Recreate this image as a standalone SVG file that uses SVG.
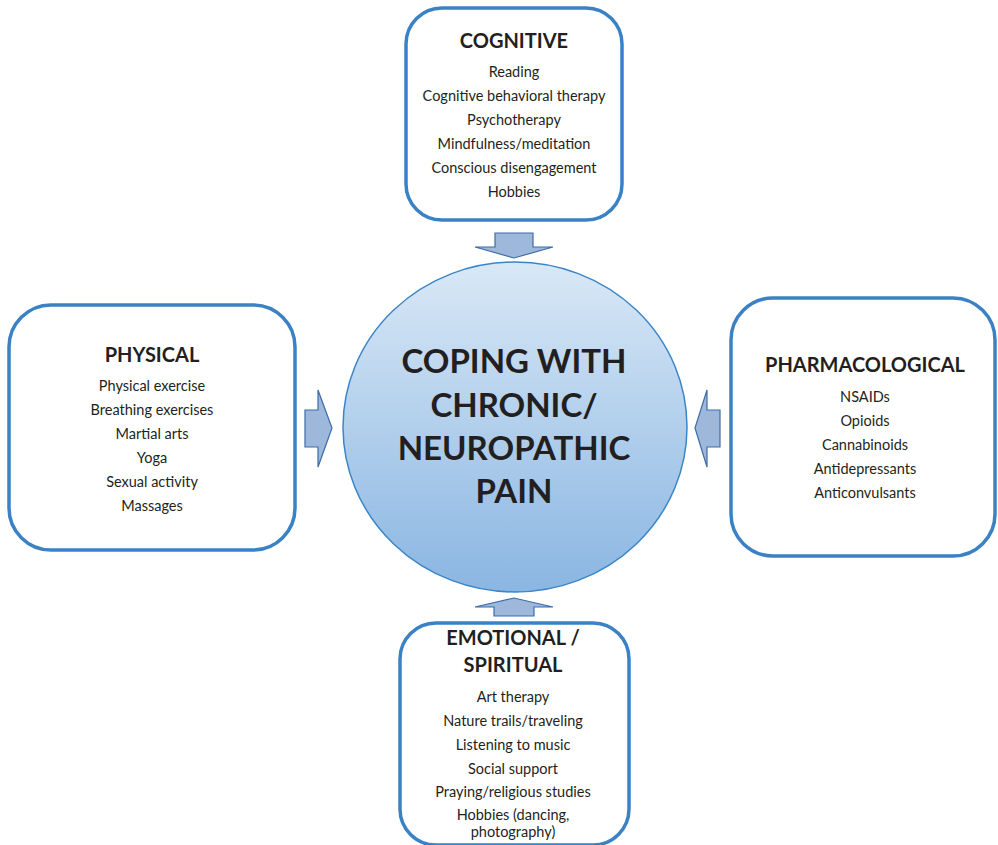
<svg xmlns="http://www.w3.org/2000/svg" width="998" height="845" viewBox="0 0 998 845">
<defs>
<linearGradient id="g" x1="0" y1="0" x2="0" y2="1">
<stop offset="0" stop-color="#d9e8f6"/>
<stop offset="1" stop-color="#8ab6e2"/>
</linearGradient>
</defs>
<style>
.box{fill:#fff;stroke:#3a82c4;stroke-width:3.5}
.arr{fill:#9db8da;stroke:#3d6ca6;stroke-width:1.2;stroke-linejoin:miter}
text{font-family:Lato,"Open Sans","Liberation Sans",sans-serif;fill:#231f20;text-anchor:middle}
.t{font-weight:bold;font-size:20px}
.i{font-size:14.5px}
.c{font-weight:bold;font-size:33px}
</style>
<g id="connectors">
<polygon class="arr" points="495,233 533,233 533,247 553,247 514,258 475,247 495,247"/>
<polygon class="arr" points="305,410 318,410 318,390 332,428 318,467 318,447 305,447"/>
<polygon class="arr" points="720,410 707,410 707,390 695,428 707,467 707,447 720,447"/>
<polygon class="arr" points="494,616 534,616 534,607 553,607 514,598 475,607 494,607"/>
</g>
<g id="center">
<ellipse cx="515" cy="427" rx="172" ry="165" fill="url(#g)" stroke="#3a85c8" stroke-width="1.5"/>
<text class="c" x="514" y="373">COPING WITH</text>
<text class="c" x="514" y="417">CHRONIC/</text>
<text class="c" x="514" y="460">NEUROPATHIC</text>
<text class="c" x="514" y="503">PAIN</text>
</g>
<g id="cognitive">
<rect class="box" x="406" y="8" width="216" height="212" rx="36"/>
<text class="t" x="514" y="48">COGNITIVE</text>
<text class="i" x="514" y="77">Reading</text>
<text class="i" x="514" y="101">Cognitive behavioral therapy</text>
<text class="i" x="514" y="125">Psychotherapy</text>
<text class="i" x="514" y="149">Mindfulness/meditation</text>
<text class="i" x="514" y="173">Conscious disengagement</text>
<text class="i" x="514" y="197">Hobbies</text>
</g>
<g id="physical">
<rect class="box" x="9" y="305" width="286" height="245" rx="42"/>
<text class="t" x="152" y="362">PHYSICAL</text>
<text class="i" x="152" y="391">Physical exercise</text>
<text class="i" x="152" y="415">Breathing exercises</text>
<text class="i" x="152" y="439">Martial arts</text>
<text class="i" x="152" y="463">Yoga</text>
<text class="i" x="152" y="487">Sexual activity</text>
<text class="i" x="152" y="511">Massages</text>
</g>
<g id="pharmacological">
<rect class="box" x="731" y="298" width="264" height="258" rx="42"/>
<text class="t" x="865" y="372">PHARMACOLOGICAL</text>
<text class="i" x="865" y="402">NSAIDs</text>
<text class="i" x="865" y="426">Opioids</text>
<text class="i" x="865" y="450">Cannabinoids</text>
<text class="i" x="865" y="474">Antidepressants</text>
<text class="i" x="865" y="498">Anticonvulsants</text>
</g>
<g id="emotional">
<rect class="box" x="400" y="623" width="229" height="222" rx="36"/>
<text class="t" x="513" y="645">EMOTIONAL /</text>
<text class="t" x="513" y="672">SPIRITUAL</text>
<text class="i" x="513" y="702">Art therapy</text>
<text class="i" x="513" y="726">Nature trails/traveling</text>
<text class="i" x="513" y="750">Listening to music</text>
<text class="i" x="513" y="774">Social support</text>
<text class="i" x="513" y="797">Praying/religious studies</text>
<text class="i" x="513" y="820">Hobbies (dancing,</text>
<text class="i" x="513" y="837">photography)</text>
</g>
</svg>
